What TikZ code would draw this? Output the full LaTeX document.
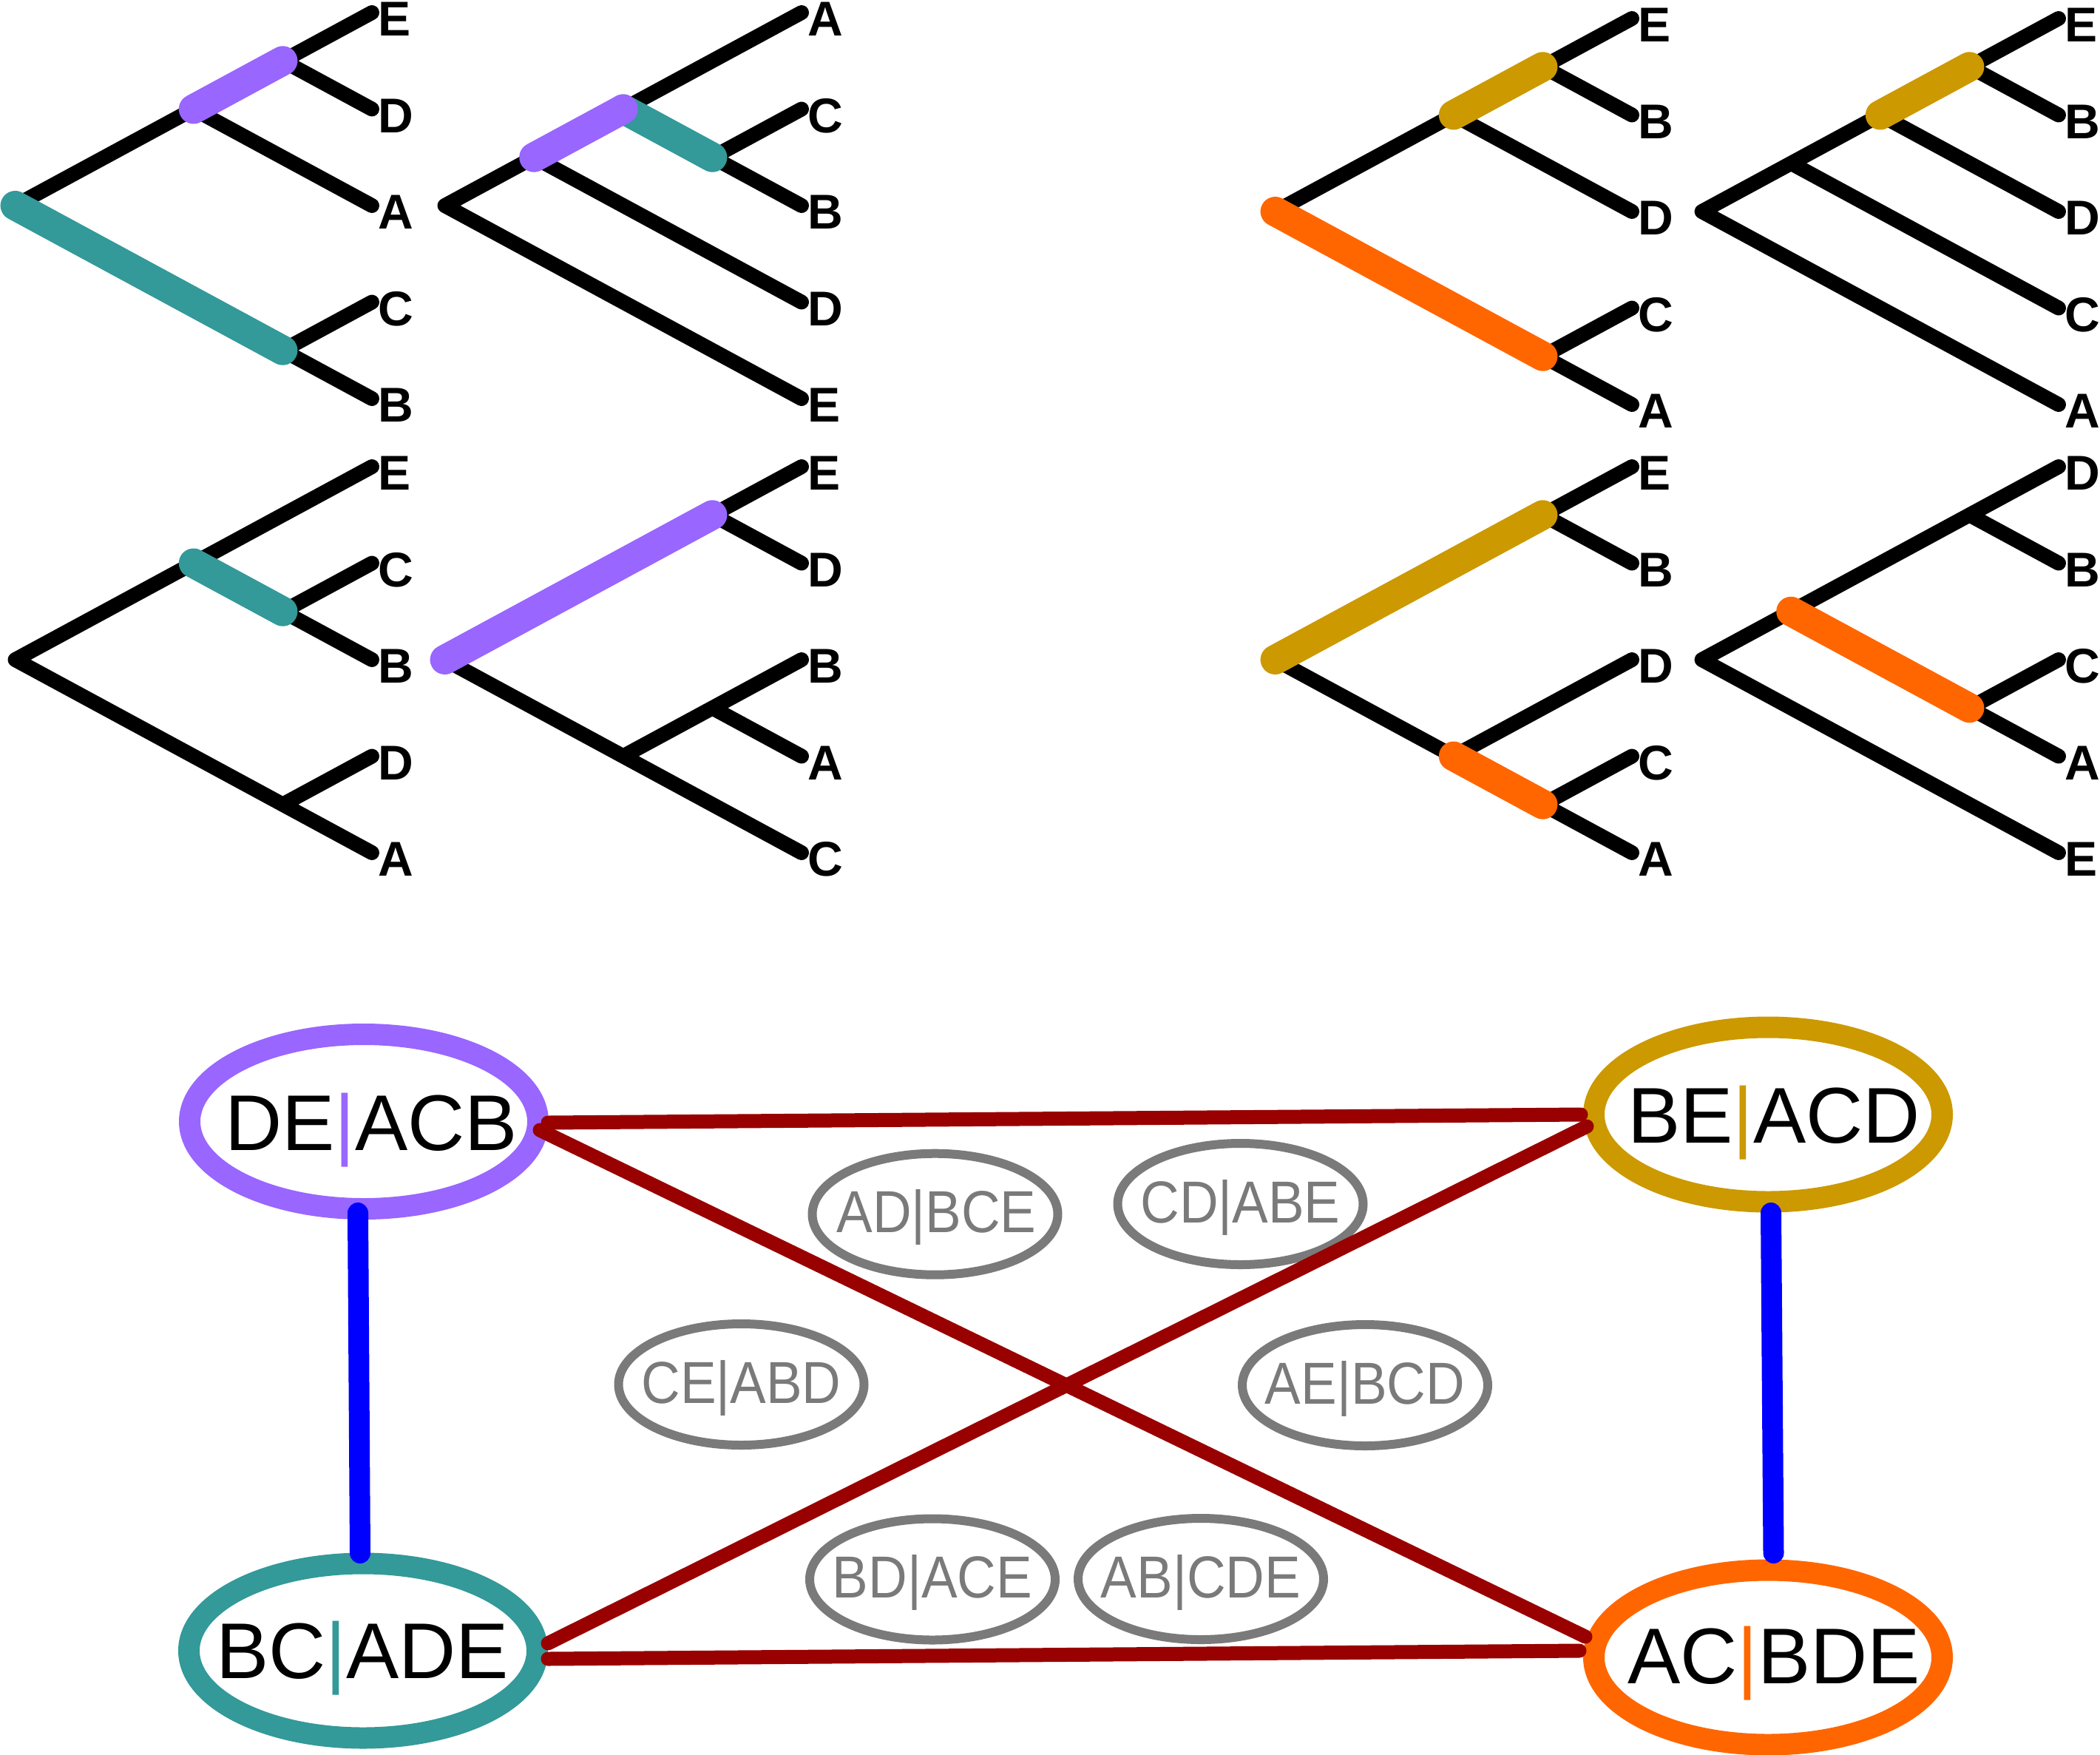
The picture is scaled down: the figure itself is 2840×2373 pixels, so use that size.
\documentclass[tikz,border=0pt]{standalone}
\usepackage{fontspec}
\setmainfont{Liberation Sans}
\newfontfamily\grayfont[FakeStretch=0.91]{Liberation Sans}
\usetikzlibrary{shapes.geometric}
\definecolor{cpurple}{HTML}{9966FF}
\definecolor{cteal}{HTML}{339999}
\definecolor{cgold}{HTML}{CC9900}
\definecolor{corange}{HTML}{FF6600}
\definecolor{cred}{HTML}{990000}
\definecolor{cblue}{HTML}{0000FF}
\definecolor{cgray}{HTML}{7A7A7A}
\newcommand\treeleaf[4]{\coordinate (#1) at (#2,#3); \node[leaflab] (#1l) at (#2+8,#3+9) {#4};}
\tikzset{
  branch/.style={line width=2.0mm, line cap=round, line join=round, black},
  hl/.style={line width=4.0mm, line cap=round},
  leaflab/.style={anchor=west, inner sep=0pt, font=\bfseries\fontsize{18.8pt}{18.8pt}\selectfont},
  bigell/.style={ellipse, draw, fill=white, line width=2.9mm, minimum width=47.1mm, minimum height=23.6mm, inner sep=0pt, outer sep=0pt},
  smallell/.style={ellipse, draw=cgray, line width=1.2mm, minimum width=33.2mm, minimum height=16.4mm, inner sep=0pt, outer sep=0pt},
  bigtxt/.style={anchor=base, inner sep=0pt, font=\fontsize{30.4pt}{30.4pt}\selectfont},
  smalltxt/.style={anchor=base, inner sep=0pt, text=cgray, font=\grayfont\fontsize{22.8pt}{22.8pt}\selectfont},
  redline/.style={cred, line width=1.9mm, line cap=round},
  blueline/.style={cblue, line width=2.8mm, line cap=round}
}
\begin{document}
\begin{tikzpicture}[x=0.1mm, y=-0.1mm]
\useasboundingbox (0,0) rectangle (2840,2373);
% ---------- Tree 1
\treeleaf{a1}{503}{17}{E}
\treeleaf{a2}{503}{147.5}{D}
\treeleaf{a3}{503}{278}{A}
\treeleaf{a4}{503}{408.5}{C}
\treeleaf{a5}{503}{539}{B}
\coordinate (aED) at (382.4,82.25);
\coordinate (aEDA) at (261.8,147.5);
\coordinate (aCB) at (382.4,473.75);
\coordinate (aR) at (20.6,278);
\draw[branch] (aR)--(aEDA)--(aED)--(a1) (aED)--(a2) (aEDA)--(a3) (aR)--(aCB)--(a5) (aCB)--(a4);
\draw[hl,cpurple] (aEDA)--(aED);
\draw[hl,cteal] (aR)--(aCB);
% ---------- Tree 2
\treeleaf{b1}{1084}{17}{A}
\treeleaf{b2}{1084}{147.5}{C}
\treeleaf{b3}{1084}{278}{B}
\treeleaf{b4}{1084}{408.5}{D}
\treeleaf{b5}{1084}{539}{E}
\coordinate (bCB) at (963.4,212.75);
\coordinate (bACB) at (842.8,147.5);
\coordinate (bACBD) at (722.2,212.75);
\coordinate (bR) at (601.6,278);
\draw[branch] (bR)--(bACBD)--(bACB)--(b1) (bACB)--(bCB)--(b3) (bCB)--(b2) (bACBD)--(b4) (bR)--(b5);
\draw[hl,cteal] (bACB)--(bCB);
\draw[hl,cpurple] (bACBD)--(bACB);
% ---------- Tree 3
\treeleaf{c1}{503}{631}{E}
\treeleaf{c2}{503}{761.5}{C}
\treeleaf{c3}{503}{892}{B}
\treeleaf{c4}{503}{1022.5}{D}
\treeleaf{c5}{503}{1153}{A}
\coordinate (cCB) at (382.4,826.75);
\coordinate (cECB) at (261.8,761.5);
\coordinate (cDA) at (382.4,1087.75);
\coordinate (cR) at (20.6,892);
\draw[branch] (cR)--(cECB)--(c1) (cECB)--(cCB)--(c3) (cCB)--(c2) (cR)--(cDA)--(c5) (cDA)--(c4);
\draw[hl,cteal] (cECB)--(cCB);
% ---------- Tree 4
\treeleaf{d1}{1084}{631}{E}
\treeleaf{d2}{1084}{761.5}{D}
\treeleaf{d3}{1084}{892}{B}
\treeleaf{d4}{1084}{1022.5}{A}
\treeleaf{d5}{1084}{1153}{C}
\coordinate (dED) at (963.4,696.25);
\coordinate (dBA) at (963.4,957.25);
\coordinate (dBAC) at (842.8,1022.5);
\coordinate (dR) at (601.6,892);
\draw[branch] (dR)--(dED)--(d1) (dED)--(d2) (dR)--(dBAC)--(d5) (dBAC)--(dBA)--(d3) (dBA)--(d4);
\draw[hl,cpurple] (dR)--(dED);
% ---------- Tree 5
\treeleaf{e1}{2207}{25}{E}
\treeleaf{e2}{2207}{155.5}{B}
\treeleaf{e3}{2207}{286}{D}
\treeleaf{e4}{2207}{416.5}{C}
\treeleaf{e5}{2207}{547}{A}
\coordinate (eEB) at (2086.4,90.25);
\coordinate (eEBD) at (1965.8,155.5);
\coordinate (eCA) at (2086.4,481.75);
\coordinate (eR) at (1724.6,286);
\draw[branch] (eR)--(eEBD)--(eEB)--(e1) (eEB)--(e2) (eEBD)--(e3) (eR)--(eCA)--(e5) (eCA)--(e4);
\draw[hl,cgold] (eEBD)--(eEB);
\draw[hl,corange] (eR)--(eCA);
% ---------- Tree 6
\treeleaf{f1}{2784}{25}{E}
\treeleaf{f2}{2784}{155.5}{B}
\treeleaf{f3}{2784}{286}{D}
\treeleaf{f4}{2784}{416.5}{C}
\treeleaf{f5}{2784}{547}{A}
\coordinate (fEB) at (2663.4,90.25);
\coordinate (fEBD) at (2542.8,155.5);
\coordinate (fEBDC) at (2422.2,220.75);
\coordinate (fR) at (2301.6,286);
\draw[branch] (fR)--(fEBDC)--(fEBD)--(fEB)--(f1) (fEB)--(f2) (fEBD)--(f3) (fEBDC)--(f4) (fR)--(f5);
\draw[hl,cgold] (fEBD)--(fEB);
% ---------- Tree 7
\treeleaf{g1}{2207}{631}{E}
\treeleaf{g2}{2207}{761.5}{B}
\treeleaf{g3}{2207}{892}{D}
\treeleaf{g4}{2207}{1022.5}{C}
\treeleaf{g5}{2207}{1153}{A}
\coordinate (gEB) at (2086.4,696.25);
\coordinate (gCA) at (2086.4,1087.75);
\coordinate (gDCA) at (1965.8,1022.5);
\coordinate (gR) at (1724.6,892);
\draw[branch] (gR)--(gEB)--(g1) (gEB)--(g2) (gR)--(gDCA)--(gCA)--(g5) (gDCA)--(g3) (gCA)--(g4);
\draw[hl,cgold] (gR)--(gEB);
\draw[hl,corange] (gDCA)--(gCA);
% ---------- Tree 8
\treeleaf{h1}{2784}{631}{D}
\treeleaf{h2}{2784}{761.5}{B}
\treeleaf{h3}{2784}{892}{C}
\treeleaf{h4}{2784}{1022.5}{A}
\treeleaf{h5}{2784}{1153}{E}
\coordinate (hDB) at (2663.4,696.25);
\coordinate (hCA) at (2663.4,957.25);
\coordinate (hDBCA) at (2422.2,826.75);
\coordinate (hR) at (2301.6,892);
\draw[branch] (hR)--(hDBCA)--(hDB)--(h1) (hDB)--(h2) (hDBCA)--(hCA)--(h4) (hCA)--(h3) (hR)--(h5);
\draw[hl,corange] (hDBCA)--(hCA);
% ---------- gray splits
\node[smallell] (s1) at (1264.5,1641.7) {};
\node[smallell] (s2) at (1677.5,1628) {};
\node[smallell] (s3) at (1002.5,1872) {};
\node[smallell] (s4) at (1846,1873) {};
\node[smallell] (s5) at (1261,2135.5) {};
\node[smallell] (s6) at (1624,2135) {};
\node[smalltxt] (s1t) at ([shift={(2,25)}]s1.center) {AD|BCE};
\node[smalltxt] (s2t) at ([shift={(0,25)}]s2.center) {CD|ABE};
\node[smalltxt] (s3t) at ([shift={(0,25)}]s3.center) {CE|ABD};
\node[smalltxt] (s4t) at ([shift={(0,25)}]s4.center) {AE|BCD};
\node[smalltxt] (s5t) at ([shift={(0,25)}]s5.center) {BD|ACE};
\node[smalltxt] (s6t) at ([shift={(0,25)}]s6.center) {AB|CDE};
% ---------- main splits
\node[bigell, draw=cpurple] (de) at (492,1516.5) {};
\node[bigell, draw=cgold] (be) at (2391,1507) {};
\node[bigell, draw=cteal] (bc) at (491,2232) {};
\node[bigell, draw=corange] (ac) at (2391,2241) {};
\node[bigtxt] (det) at ([shift={(10,38.5)}]de.center) {DE\textcolor{cpurple}{|}ACB};
\node[bigtxt] (bet) at ([shift={(8,38.5)}]be.center) {BE\textcolor{cgold}{|}ACD};
\node[bigtxt] (bct) at ([shift={(-1,37)}]bc.center) {BC\textcolor{cteal}{|}ADE};
\node[bigtxt] (act) at ([shift={(8,35)}]ac.center) {AC\textcolor{corange}{|}BDE};
% ---------- connectors
\draw[redline] ([shift={(249,1.5)}]de.center) -- ([shift={(-253,0)}]be.center);
\draw[redline] ([shift={(238,11.5)}]de.center) -- ([shift={(-247,-28)}]ac.center);
\draw[redline] ([shift={(-245,16)}]be.center) -- ([shift={(250,-10)}]bc.center);
\draw[redline] ([shift={(250,11)}]bc.center) -- ([shift={(-255,-9)}]ac.center);
\draw[blueline] ([shift={(-8,123.5)}]de.center) -- ([shift={(-4,-132)}]bc.center);
\draw[blueline] ([shift={(4,133)}]be.center) -- ([shift={(7.5,-141)}]ac.center);
\end{tikzpicture}
\end{document}
